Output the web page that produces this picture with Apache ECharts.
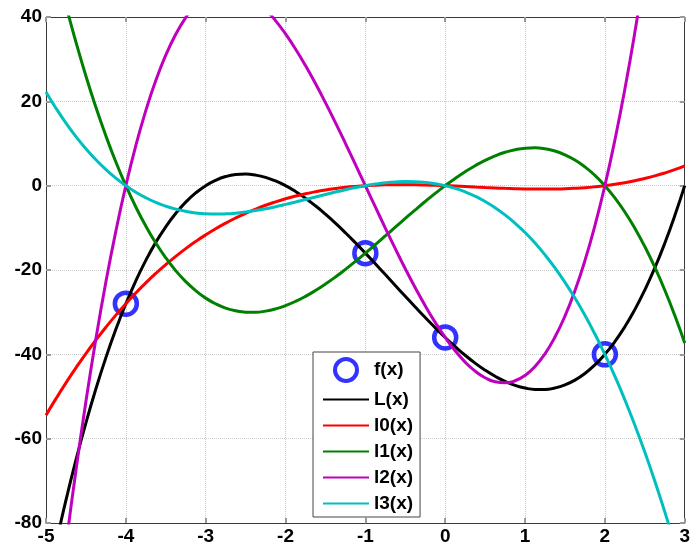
<!DOCTYPE html>
<html>
<head>
<meta charset="utf-8">
<script src="https://cdn.jsdelivr.net/npm/echarts@6/dist/echarts.min.js"></script>
<style>html,body{margin:0;padding:0;background:#fff;}#c{width:693px;height:548px;}</style>
</head>
<body>
<div id="c"></div>
<script>
var xs = [-5,-4.875,-4.75,-4.625,-4.5,-4.375,-4.25,-4.125,-4,-3.875,-3.75,-3.625,-3.5,-3.375,-3.25,-3.125,-3,-2.875,-2.75,-2.625,-2.5,-2.375,-2.25,-2.125,-2,-1.875,-1.75,-1.625,-1.5,-1.375,-1.25,-1.125,-1,-0.875,-0.75,-0.625,-0.5,-0.375,-0.25,-0.125,0,0.125,0.25,0.375,0.5,0.625,0.75,0.875,1,1.125,1.25,1.375,1.5,1.625,1.75,1.875,2,2.125,2.25,2.375,2.5,2.625,2.75,2.875,3];
var Lx = [-96,-84.90,-74.59,-65.06,-56.25,-48.18,-40.78,-34.07,-28,-22.56,-17.72,-13.45,-9.75,-6.59,-3.91,-1.73,0,1.28,2.16,2.63,2.75,2.51,1.97,1.11,0,-1.37,-2.97,-4.77,-6.75,-8.89,-11.16,-13.54,-16,-18.53,-21.09,-23.67,-26.25,-28.79,-31.28,-33.69,-36,-38.17,-40.22,-42.09,-43.75,-45.19,-46.41,-47.35,-48,-48.33,-48.34,-47.98,-47.25,-46.11,-44.53,-42.50,-40,-36.99,-33.47,-29.39,-24.75,-19.52,-13.66,-7.16,0];
var l0 = [-54.44,-50.51,-46.76,-43.20,-39.81,-36.61,-33.57,-30.70,-28,-25.45,-23.06,-20.82,-18.72,-16.76,-14.93,-13.24,-11.67,-10.22,-8.89,-7.67,-6.56,-5.56,-4.65,-3.84,-3.11,-2.47,-1.91,-1.43,-1.02,-0.68,-0.39,-0.17,0,0.12,0.20,0.24,0.24,0.22,0.16,0.09,0,-0.10,-0.21,-0.33,-0.44,-0.54,-0.64,-0.72,-0.78,-0.81,-0.82,-0.79,-0.73,-0.62,-0.47,-0.26,0,0.32,0.71,1.17,1.70,2.31,3.01,3.79,4.67];
var l1 = [62.22,52.14,42.75,34.04,26.0,18.59,11.81,5.61,0,-5.06,-9.58,-13.59,-17.11,-20.16,-22.75,-24.91,-26.67,-28.03,-29.03,-29.68,-30,-30.02,-29.75,-29.22,-28.44,-27.45,-26.25,-24.87,-23.33,-21.66,-19.86,-17.97,-16,-13.98,-11.92,-9.84,-7.78,-5.74,-3.75,-1.83,0,1.72,3.31,4.74,6.0,7.07,7.92,8.53,8.89,8.97,8.75,8.21,7.33,6.09,4.47,2.45,0,-2.89,-6.25,-10.09,-14.44,-19.32,-24.75,-30.75,-37.33];
var l2 = [-126,-104.90,-85.43,-67.54,-51.19,-36.31,-22.85,-10.77,0,9.50,17.79,24.92,30.94,35.90,39.87,42.88,45,46.27,46.76,46.50,45.56,43.99,41.84,39.15,36,32.42,28.48,24.21,19.69,14.95,10.05,5.05,0,-5.05,-10.05,-14.95,-19.69,-24.21,-28.48,-32.42,-36,-39.15,-41.84,-43.99,-45.56,-46.50,-46.76,-46.27,-45,-42.88,-39.87,-35.90,-30.94,-24.92,-17.79,-9.50,0,10.77,22.85,36.31,51.19,67.54,85.43,104.90,126];
var l3 = [22.22,18.37,14.84,11.64,8.75,6.15,3.84,1.79,0,-1.55,-2.86,-3.96,-4.86,-5.57,-6.09,-6.46,-6.67,-6.74,-6.68,-6.52,-6.25,-5.90,-5.47,-4.98,-4.44,-3.87,-3.28,-2.68,-2.08,-1.50,-0.95,-0.45,0,0.38,0.68,0.88,0.97,0.94,0.78,0.47,0,-0.64,-1.48,-2.51,-3.75,-5.22,-6.93,-8.89,-11.11,-13.61,-16.41,-19.50,-22.92,-26.66,-30.75,-35.19,-40,-45.19,-50.78,-56.78,-63.19,-70.05,-77.34,-85.10,-93.33];
var nodeX = [-4,-1,0,2];
var nodeY = [-28,-16,-36,-40];
var legendNames = ['f(x)','L(x)','l0(x)','l1(x)','l2(x)','l3(x)'];

function pairs(a, b) { return a.map(function (v, i) { return [v, b[i]]; }); }

var font = 'Liberation Sans, Arial, Helvetica, sans-serif';
function axisBase() {
  return {
    type: 'value',
    axisLine: { show: true, onZero: false, lineStyle: { color: '#3a3a3a', width: 1 } },
    axisTick: { show: true, inside: true, length: 5, lineStyle: { color: '#999', width: 2 } }
  };
}
function lineSeries(name, data, color) {
  return {
    name: name, type: 'line', data: pairs(xs, data), smooth: true,
    showSymbol: false, symbol: 'none', clip: true,
    lineStyle: { color: color, width: 3 }, itemStyle: { color: color },
    emphasis: { disabled: true }, animation: false, z: 3
  };
}

var chart = echarts.init(document.getElementById('c'), null, { renderer: 'canvas' });
chart.setOption({
  animation: false,
  backgroundColor: '#fff',
  grid: { left: 46, right: 5, top: 17, bottom: 25, containLabel: false },
  xAxis: [
    Object.assign(axisBase(), {
      min: -5, max: 3, interval: 1, position: 'bottom',
      axisLabel: { color: '#000', fontFamily: font, fontWeight: 'bold', fontSize: 19, margin: 4 },
      splitLine: { show: true, lineStyle: { color: '#c8c8c8', type: 'dotted', width: 1 } }
    }),
    Object.assign(axisBase(), {
      min: -5, max: 3, interval: 1, position: 'top',
      axisLabel: { show: false }, splitLine: { show: false }
    })
  ],
  yAxis: [
    Object.assign(axisBase(), {
      min: -80, max: 40, interval: 20, position: 'left',
      axisLabel: { color: '#000', fontFamily: font, fontWeight: 'bold', fontSize: 19, margin: 4 },
      splitLine: { show: true, lineStyle: { color: '#c8c8c8', type: 'dotted', width: 1 } }
    }),
    Object.assign(axisBase(), {
      min: -80, max: 40, interval: 20, position: 'right',
      axisLabel: { show: false }, splitLine: { show: false }
    })
  ],
  legend: {
    orient: 'vertical', left: 313, top: 352,
    backgroundColor: '#fff', borderColor: '#444', borderWidth: 1, borderRadius: 0,
    padding: [5, 7, 4, 9], itemGap: 7, itemWidth: 46, itemHeight: 22,
    textStyle: { color: '#000', fontFamily: font, fontWeight: 'bold', fontSize: 19 },
    selectedMode: false,
    data: legendNames.map(function (n, i) {
      if (i === 0) {
        return { name: n, icon: 'circle', itemStyle: { color: 'rgba(0,0,0,0)', borderColor: '#0000ff', borderWidth: 4 } };
      }
      return { name: n, itemStyle: { opacity: 0 } };
    })
  },
  series: [
    {
      name: legendNames[0], type: 'scatter', data: pairs(nodeX, nodeY),
      symbol: 'circle', symbolSize: 22,
      itemStyle: { color: 'rgba(0,0,0,0)', borderColor: '#0000ff', borderWidth: 4.5 },
      emphasis: { disabled: true }, z: 1
    },
    lineSeries(legendNames[1], Lx, '#000000'),
    lineSeries(legendNames[2], l0, '#ff0000'),
    lineSeries(legendNames[3], l1, '#008000'),
    lineSeries(legendNames[4], l2, '#bf00bf'),
    lineSeries(legendNames[5], l3, '#00bfbf')
  ]
});
</script>
</body>
</html>
